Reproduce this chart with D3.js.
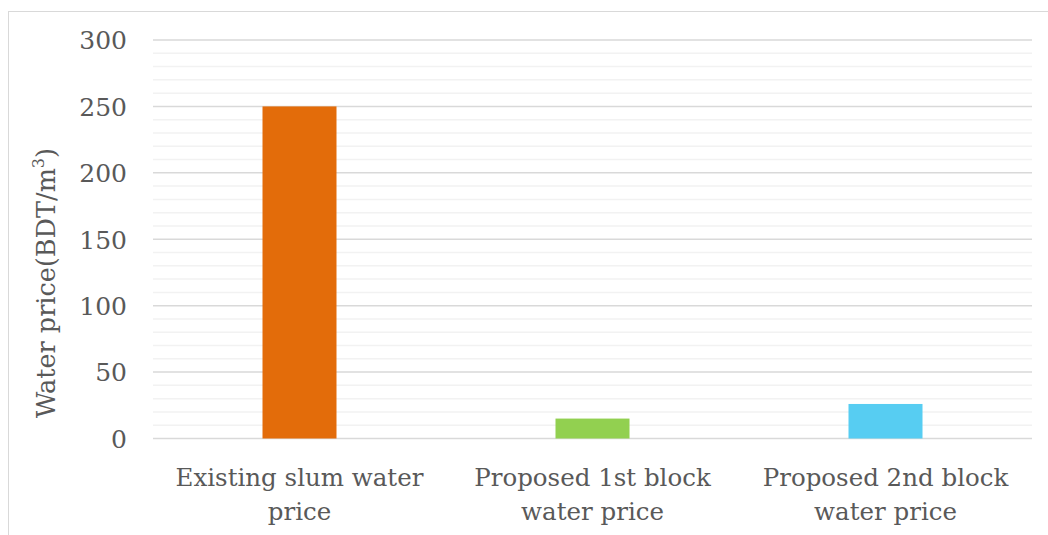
<!DOCTYPE html>
<html>
<head>
<meta charset="utf-8">
<script src="https://cdn.jsdelivr.net/npm/d3@7"></script>
<style>
  html, body { margin: 0; padding: 0; background: #fff; }
  svg { display: block; }
  text { font-family: "DejaVu Serif", "Liberation Serif", serif; fill: #595959; }
</style>
</head>
<body>
<svg id="chart" width="1048" height="535"></svg>
<script>
// Water price by tariff scheme (BDT per cubic metre)
const categories = [
  ["Existing slum water", "price"],
  ["Proposed 1st block", "water price"],
  ["Proposed 2nd block", "water price"]
];
const values = [250, 15, 26];
const colors = ["#e36c0a", "#92d050", "#57cdf2"];
const yTicks = [0, 50, 100, 150, 200, 250, 300];
const yLabel = "Water price(BDT/m";

const svg = d3.select("#chart");
const W = 1048, H = 535;
const m = { left: 153, right: 16, top: 40, bottom: 97 };

// chart frame
svg.append("rect")
  .attr("x", 8.5).attr("y", 11.5)
  .attr("width", W + 10).attr("height", H + 10)
  .attr("fill", "none").attr("stroke", "#d9d9d9").attr("stroke-width", 1);

const x = d3.scaleBand()
  .domain(d3.range(categories.length))
  .range([m.left, W - m.right])
  .paddingInner(0.5)
  .paddingOuter(0.25);

const y = d3.scaleLinear().domain([0, 300]).range([H - m.bottom + 0.5, m.top]);

// minor gridlines
const g = svg.append("g");
g.selectAll("line.minor")
  .data(d3.range(0, 301, 10).filter(v => v % 50 !== 0))
  .join("line")
  .attr("x1", m.left).attr("x2", W - m.right)
  .attr("y1", d => y(d)).attr("y2", d => y(d))
  .attr("stroke", "#f2f2f2").attr("stroke-width", 1.5);

// major gridlines
g.selectAll("line.major")
  .data(yTicks)
  .join("line")
  .attr("x1", m.left).attr("x2", W - m.right)
  .attr("y1", d => y(d)).attr("y2", d => y(d))
  .attr("stroke", "#d9d9d9").attr("stroke-width", 1.5);

// y axis labels
const yAxis = d3.axisLeft(y).tickValues(yTicks).tickSize(0).tickPadding(0);
const ya = svg.append("g").attr("transform", `translate(127,0)`).call(yAxis);
ya.select(".domain").remove();
ya.selectAll("text")
  .attr("font-size", 25)
  .attr("font-family", "DejaVu Serif, Liberation Serif, serif")
  .attr("fill", "#595959")
  .attr("dy", "0.35em");

// bars
svg.append("g").selectAll("rect")
  .data(values)
  .join("rect")
  .attr("x", (d, i) => x(i) + (x.bandwidth() - 74) / 2)
  .attr("width", 74)
  .attr("y", d => y(d))
  .attr("height", d => y(0) - y(d))
  .attr("fill", (d, i) => colors[i]);

// category labels (two lines each)
const xl = svg.append("g").selectAll("text")
  .data(categories)
  .join("text")
  .attr("text-anchor", "middle")
  .attr("font-size", 24.5)
  .attr("x", (d, i) => x(i) + x.bandwidth() / 2)
  .attr("y", 486);
xl.each(function(d) {
  const t = d3.select(this);
  t.append("tspan").attr("x", t.attr("x")).attr("dy", 0).text(d[0]);
  t.append("tspan").attr("x", t.attr("x")).attr("dy", 34).text(d[1]);
});

// y axis title with superscript
const yt = svg.append("text")
  .attr("transform", "translate(55,283) rotate(-90)")
  .attr("text-anchor", "middle")
  .attr("font-size", 25.5);
yt.append("tspan").text(yLabel);
yt.append("tspan").attr("font-size", 16).attr("dy", -11).text("3");
yt.append("tspan").attr("dy", 11).text(")");
</script>
</body>
</html>
